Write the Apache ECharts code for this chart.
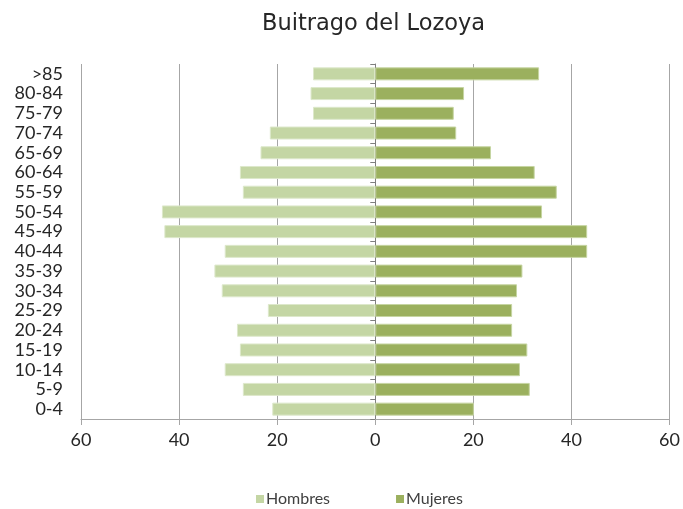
<!DOCTYPE html>
<html>
<head>
<meta charset="utf-8">
<script src="https://cdn.jsdelivr.net/npm/echarts@6/dist/echarts.min.js"></script>
<style>
  html, body { margin: 0; padding: 0; background: #fff; }
  #chart { width: 683px; height: 509px; }
</style>
</head>
<body>
<div id="chart"></div>
<script>
// Age groups, youngest at the bottom
const ageGroups = ['0-4', '5-9', '10-14', '15-19', '20-24', '25-29', '30-34', '35-39', '40-44',
  '45-49', '50-54', '55-59', '60-64', '65-69', '70-74', '75-79', '80-84', '>85'];

// Population per age group
const hombres = [21, 27, 30.7, 27.6, 28.2, 21.9, 31.3, 32.8, 30.7,
  43, 43.5, 27, 27.6, 23.4, 21.5, 12.7, 13.2, 12.7];
const mujeres = [20.1, 31.5, 29.5, 31, 27.9, 27.9, 28.9, 30, 43.2,
  43.2, 34, 37, 32.5, 23.6, 16.5, 16, 18.1, 33.4];

const xTicks = [-60, -40, -20, 0, 20, 40, 60];

const FONT = 'Lato';
const chart = echarts.init(document.getElementById('chart'));

chart.setOption({
  backgroundColor: '#ffffff',
  animation: false,
  textStyle: { fontFamily: FONT },
  title: {
    text: 'Buitrago del Lozoya',
    left: 257,
    top: 8,
    textStyle: { fontFamily: 'DejaVu Sans', fontSize: 22.5, fontWeight: 'normal', color: '#262626' }
  },
  legend: {
    top: 486,
    left: 251,
    itemWidth: 8,
    itemHeight: 8,
    itemGap: 66,
    icon: 'rect',
    itemStyle: { borderWidth: 0 },
    textStyle: { fontFamily: FONT, fontSize: 16, color: '#404040', padding: [0, 0, 0, -3] },
    data: ['Hombres', 'Mujeres']
  },
  grid: { left: 81, right: 12, top: 64, bottom: 90 },
  xAxis: {
    type: 'value',
    min: xTicks[0],
    max: xTicks[xTicks.length - 1],
    interval: 20,
    axisLine: { show: true, lineStyle: { color: '#a6a6a6', width: 1 } },
    axisTick: { show: true, length: 6, lineStyle: { color: '#a6a6a6' } },
    splitLine: { show: true, lineStyle: { color: '#a6a6a6', width: 1 } },
    axisLabel: {
      fontFamily: FONT, fontSize: 18, color: '#262626', margin: 12,
      formatter: v => String(Math.abs(v))
    }
  },
  yAxis: [
    {
      // centre axis with boundary ticks, sitting on zero
      type: 'category',
      data: ageGroups,
      axisLine: { show: true, onZero: true, lineStyle: { color: '#7f7f7f', width: 1 } },
      axisTick: { show: true, length: 5, lineStyle: { color: '#7f7f7f' } },
      axisLabel: { show: false },
      splitLine: { show: false }
    },
    {
      // age-group labels at the left edge
      type: 'category',
      data: ageGroups,
      position: 'left',
      axisLine: { show: false, onZero: false },
      axisTick: { show: false },
      axisLabel: { interval: 0, fontFamily: FONT, fontSize: 18, color: '#262626', margin: 18 },
      splitLine: { show: false }
    }
  ],
  series: [
    {
      name: 'Hombres',
      type: 'bar',
      yAxisIndex: 0,
      data: hombres.map(v => -v),
      barWidth: 13,
      barGap: '-100%',
      itemStyle: { color: '#c4d6a4', borderColor: '#dde8cb', borderWidth: 1 }
    },
    {
      name: 'Mujeres',
      type: 'bar',
      yAxisIndex: 0,
      data: mujeres,
      barWidth: 13,
      barGap: '-100%',
      itemStyle: { color: '#9bb05e', borderColor: '#c6d5a2', borderWidth: 1 }
    }
  ]
});
</script>
</body>
</html>
